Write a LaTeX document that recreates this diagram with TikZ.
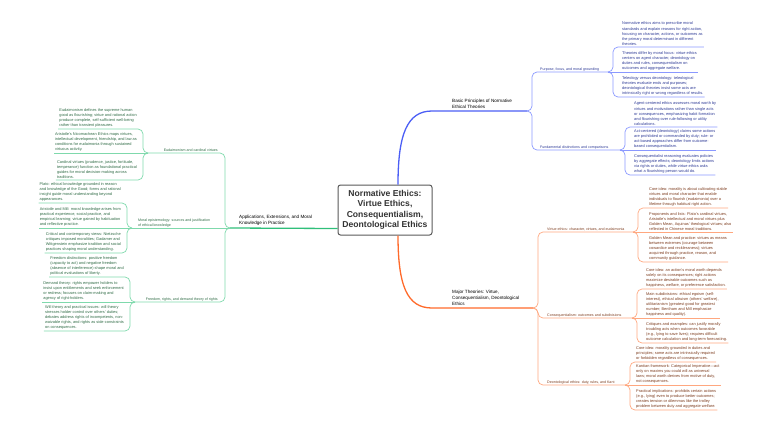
\documentclass[tikz,border=0pt]{standalone}
\usepackage{fontspec}
\setmainfont{Liberation Sans}
\definecolor{bmain}{RGB}{75,94,245}
\definecolor{bsubc}{RGB}{138,152,255}
\definecolor{btext}{RGB}{45,58,150}
\definecolor{omain}{RGB}{255,106,43}
\definecolor{osubc}{RGB}{255,167,127}
\definecolor{otext}{RGB}{125,60,30}
\definecolor{gmain}{RGB}{47,191,122}
\definecolor{gsubc}{RGB}{127,217,172}
\definecolor{gtext}{RGB}{47,107,69}

\begin{document}
\begin{tikzpicture}[x=1pt, y=-1pt,
  leaf/.style={align=left, inner sep=1pt, font=\fontsize{3.9}{5.2}\selectfont},
  sublabel/.style={align=left, inner sep=1pt, font=\fontsize{3.6}{4.8}\selectfont},
  mainlabel/.style={align=left, inner xsep=1pt, inner ysep=2.5pt, font=\fontsize{4.6}{6}\selectfont},
  bleaf/.style={leaf, anchor=south west, text=btext},
  oleaf/.style={leaf, anchor=south west, text=otext},
  gleaf/.style={leaf, anchor=south east, text=gtext},
  bsub/.style={draw=bsubc, line width=0.7pt, rounded corners=5pt},
  osub/.style={draw=osubc, line width=0.7pt, rounded corners=5pt},
  gsub/.style={draw=gsubc, line width=0.7pt, rounded corners=5pt}]
\useasboundingbox (0,0) rectangle (768,429);

\node[draw=black!65, fill=white, line width=1pt, rounded corners=2.5pt,
  minimum width=94pt, minimum height=50pt, inner sep=3pt, align=center,
  text=black!80, font=\fontsize{8.6}{10.5}\selectfont\bfseries] (c) at (385,210)
  {Normative Ethics:\\Virtue Ethics,\\Consequentialism,\\Deontological Ethics};

% main branches
\node[mainlabel, anchor=south west] (basic) at (451,111) {Basic Principles of Normative\\Ethical Theories};
\node[mainlabel, anchor=south west] (major) at (451,308) {Major Theories: Virtue,\\Consequentialism, Deontological\\Ethics};
\node[mainlabel, anchor=south west] (appl) at (238,228) {Applications, Extensions, and Moral\\Knowledge in Practice};

\coordinate (bj) at (527,111);
\coordinate (oj) at (533,308);
\coordinate (gj) at (230,228);

% sub branches
\node[sublabel, anchor=south west, text=btext] (purp) at (539,72) {Purpose, focus, and moral grounding};
\node[sublabel, anchor=south west, text=btext] (fund) at (539,150) {Fundamental distinctions and comparisons};
\node[sublabel, anchor=south west, text=otext] (virt) at (546,232) {Virtue ethics: character, virtues, and eudaimonia};
\node[sublabel, anchor=south west, text=otext] (cons) at (546,318) {Consequentialism: outcomes and subdivisions};
\node[sublabel, anchor=south west, text=otext] (deon) at (546,385) {Deontological ethics: duty, rules, and Kant};
\node[sublabel, anchor=south east, text=gtext] (eud) at (219,153) {Eudaimonism and cardinal virtues};
\node[sublabel, anchor=south west, text=gtext] (mor) at (137,228) {Moral epistemology: sources and justification\\of ethical knowledge};
\node[sublabel, anchor=south east, text=gtext] (free) at (219,302) {Freedom, rights, and demand theory of rights};

\coordinate (pj) at (608,72);
\coordinate (fj) at (620,150);
\coordinate (vj) at (633,232);
\coordinate (qj) at (632,318);
\coordinate (dj) at (625,385);
\coordinate (ej) at (148,153);
\coordinate (mj) at (132,228);
\coordinate (rj) at (135,302);

% leaves, basic principles
\node[bleaf] (r1) at (621,47) {Normative ethics aims to prescribe moral\\standards and explain reasons for right action,\\focusing on character, actions, or outcomes as\\the primary moral determinant in different\\theories.};
\node[bleaf] (r2) at (621,72) {Theories differ by moral focus: virtue ethics\\centers on agent character, deontology on\\duties and rules, consequentialism on\\outcomes and aggregate welfare.};
\node[bleaf] (r3) at (621,97) {Teleology versus deontology: teleological\\theories evaluate ends and purposes;\\deontological theories insist some acts are\\intrinsically right or wrong regardless of results.};
\node[bleaf] (r4) at (633,127) {Agent-centered ethics assesses moral worth by\\virtues and motivations rather than single acts\\or consequences, emphasizing habit formation\\and flourishing over rule-following or utility\\calculations.};
\node[bleaf] (r5) at (633,150) {Act-centered (deontology) claims some actions\\are prohibited or commanded by duty; rule- or\\act-based approaches differ from outcome-\\based consequentialism.};
\node[bleaf] (r6) at (633,175) {Consequentialist reasoning evaluates policies\\by aggregate effects; deontology limits actions\\via rights or duties, while virtue ethics asks\\what a flourishing person would do.};

% leaves, major theories
\node[oleaf] (r7) at (648,208) {Core idea: morality is about cultivating stable\\virtues and moral character that enable\\individuals to flourish (eudaimonia) over a\\lifetime through habitual right action.};
\node[oleaf] (r8) at (648,232) {Proponents and lists: Plato's cardinal virtues,\\Aristotle's intellectual and moral virtues plus\\Golden Mean, Aquinas' theological virtues; also\\reflected in Chinese moral traditions.};
\node[oleaf] (r9) at (648,262) {Golden Mean and practice: virtues as means\\between extremes (courage between\\cowardice and recklessness); virtues\\acquired through practice, reason, and\\community guidance.};
\node[oleaf] (r10) at (645,289) {Core idea: an action's moral worth depends\\solely on its consequences; right actions\\maximize desirable outcomes such as\\happiness, welfare, or preference satisfaction.};
\node[oleaf] (r11) at (645,318) {Main subdivisions: ethical egoism (self-\\interest), ethical altruism (others' welfare),\\utilitarianism (greatest good for greatest\\number; Bentham and Mill emphasize\\happiness and quality).};
\node[oleaf] (r12) at (645,343) {Critiques and examples: can justify morally\\troubling acts when outcomes favorable\\(e.g., lying to save lives); requires difficult\\outcome calculation and long-term forecasting.};
\node[oleaf] (r13) at (635,362) {Core idea: morality grounded in duties and\\principles; some acts are intrinsically required\\or forbidden regardless of consequences.};
\node[oleaf] (r14) at (635,385) {Kantian framework: Categorical Imperative—act\\only on maxims you could will as universal\\laws; moral worth derives from motive of duty,\\not consequences.};
\node[oleaf] (r15) at (635,410) {Practical implications: prohibits certain actions\\(e.g., lying) even to produce better outcomes;\\creates tension or dilemmas like the trolley\\problem between duty and aggregate welfare.};

% leaves, applications
\node[gleaf] (l1) at (138,129) {Eudaimonism defines the supreme human\\good as flourishing; virtue and rational action\\produce complete, self-sufficient well-being\\rather than transient pleasures.};
\node[gleaf] (l2) at (138,153) {Aristotle's Nicomachean Ethics maps virtues,\\intellectual development, friendship, and law as\\conditions for eudaimonia through sustained\\virtuous activity.};
\node[gleaf] (l3) at (138,180) {Cardinal virtues (prudence, justice, fortitude,\\temperance) function as foundational practical\\guides for moral decision-making across\\traditions.};
\node[gleaf] (l4) at (122,203) {Plato: ethical knowledge grounded in reason\\and knowledge of the Good; forms and rational\\insight guide moral understanding beyond\\appearances.};
\node[gleaf] (l5) at (122,228) {Aristotle and Mill: moral knowledge arises from\\practical experience, social practice, and\\empirical learning; virtue gained by habituation\\and reflective practice.};
\node[gleaf] (l6) at (122,253) {Critical and contemporary views: Nietzsche\\critiques imposed moralities; Gadamer and\\Wittgenstein emphasize tradition and social\\practices shaping moral understanding.};
\node[gleaf] (l7) at (125,277) {Freedom distinctions: positive freedom\\(capacity to act) and negative freedom\\(absence of interference) shape moral and\\political evaluations of liberty.};
\node[gleaf] (l8) at (125,302) {Demand theory: rights empower holders to\\insist upon entitlements and seek enforcement\\or redress; focuses on claim-making and\\agency of right-holders.};
\node[gleaf] (l9) at (125,331) {Will theory and practical issues: will theory\\stresses holder control over others' duties;\\debates address rights of incompetents, non-\\waivable rights, and rights as side-constraints\\on consequences.};

% main connectors
\draw[draw=bmain, line width=1.3pt] ([xshift=13pt]c.north) .. controls +(0,-50) and +(-25,0) .. ([xshift=-19pt]basic.south west) -- (bj);
\draw[draw=omain, line width=1.3pt] ([xshift=13pt]c.south) .. controls +(0,50) and +(-25,0) .. ([xshift=-19pt]major.south west) -- (oj);
\draw[draw=gmain, line width=1.3pt] ([yshift=7pt]c.south west) -- (gj);

% sub connectors
\draw[bsub] (bj) -- ++(5,0) |- (pj);
\draw[bsub] (bj) -- ++(5,0) |- (fj);
\draw[osub] (oj) -- ++(5,0) |- (vj);
\draw[osub] (oj) -- ++(5,0) |- (qj);
\draw[osub] (oj) -- ++(5,0) |- (dj);
\draw[gsub] (gj) -- ++(-5,0) |- (ej);
\draw[gsub] (gj) -- (mj);
\draw[gsub] (gj) -- ++(-5,0) |- (rj);

% leaf connectors
\draw[bsub] (pj) -- ++(5,0) |- (r1.south east);
\draw[bsub] (pj) -- (r2.south east);
\draw[bsub] (pj) -- ++(5,0) |- (r3.south east);
\draw[bsub] (fj) -- ++(5,0) |- (r4.south east);
\draw[bsub] (fj) -- (r5.south east);
\draw[bsub] (fj) -- ++(5,0) |- (r6.south east);
\draw[osub] (vj) -- ++(5,0) |- (r7.south east);
\draw[osub] (vj) -- (r8.south east);
\draw[osub] (vj) -- ++(5,0) |- (r9.south east);
\draw[osub] (qj) -- ++(5,0) |- (r10.south east);
\draw[osub] (qj) -- (r11.south east);
\draw[osub] (qj) -- ++(5,0) |- (r12.south east);
\draw[osub] (dj) -- ++(5,0) |- (r13.south east);
\draw[osub] (dj) -- (r14.south east);
\draw[osub] (dj) -- ++(5,0) |- (r15.south east);
\draw[gsub] (ej) -- ++(-5,0) |- (l1.south west);
\draw[gsub] (ej) -- (l2.south west);
\draw[gsub] (ej) -- ++(-5,0) |- (l3.south west);
\draw[gsub] (mj) -- ++(-5,0) |- (l4.south west);
\draw[gsub] (mj) -- (l5.south west);
\draw[gsub] (mj) -- ++(-5,0) |- (l6.south west);
\draw[gsub] (rj) -- ++(-5,0) |- (l7.south west);
\draw[gsub] (rj) -- (l8.south west);
\draw[gsub] (rj) -- ++(-5,0) |- (l9.south west);
\end{tikzpicture}
\end{document}
